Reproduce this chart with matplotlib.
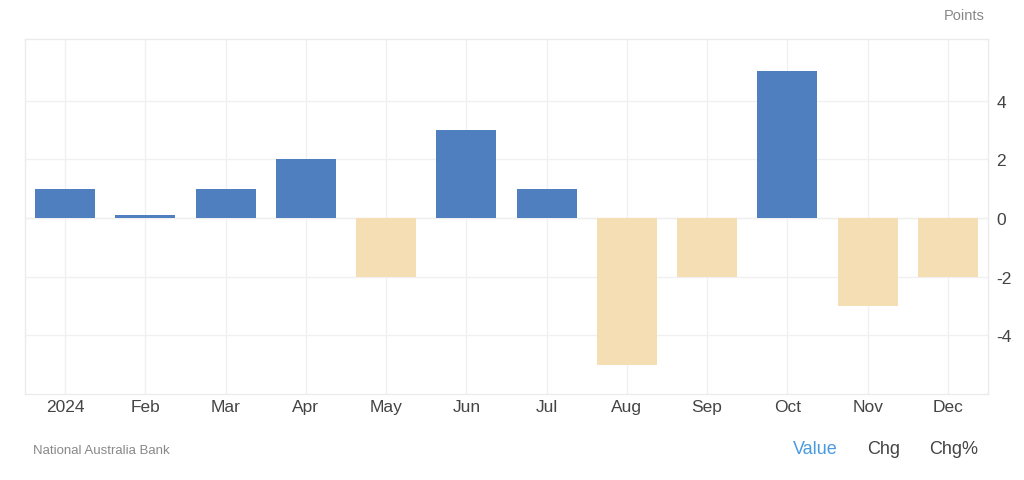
import matplotlib
matplotlib.use("Agg")
import matplotlib.pyplot as plt

plt.rcParams["font.family"] = ["Liberation Sans", "DejaVu Sans"]
plt.rcParams["axes.unicode_minus"] = False

months = ["2024", "Feb", "Mar", "Apr", "May", "Jun", "Jul", "Aug", "Sep", "Oct", "Nov", "Dec"]
values = [1, 0.1, 1, 2, -2, 3, 1, -5, -2, 5, -3, -2]
yticks = [-4, -2, 0, 2, 4]

pos_color = "#4f7fbf"
neg_color = "#f5deb3"

fig = plt.figure(figsize=(10.24, 4.81), dpi=100)
ax = fig.add_axes([25/1024, 86/481, (988-25)/1024, (395-40)/481])

x = list(range(len(months)))
colors = [pos_color if v >= 0 else neg_color for v in values]
ax.bar(x, values, width=0.75, color=colors, zorder=3)

ax.set_xlim(-0.5, 11.5)
ax.set_ylim(-6.0, 6.1)
ax.set_xticks(x)
ax.set_xticklabels(months)
ax.set_yticks(yticks)
ax.yaxis.tick_right()
ax.tick_params(axis="both", length=0, colors="#444444", labelsize=12.5)
ax.tick_params(axis="x", pad=3.5)
ax.tick_params(axis="y", pad=6)
ax.grid(True, color="#f0f0f0", linewidth=1, zorder=0)
ax.axhline(0, color="#f0f0f0", linewidth=1, zorder=1)
for s in ax.spines.values():
    s.set_color("#ebebeb")
    s.set_linewidth(1)

fig.text(985/1024, 1 - 16/481, "Points", ha="right", va="center", fontsize=10.5, color="#888888")
fig.text(33/1024, 1 - 451/481, "National Australia Bank", ha="left", va="center", fontsize=9.5, color="#888888")
fig.text(793/1024, 1 - 450/481, "Value", ha="left", va="center", fontsize=13, color="#4a9ae0")
fig.text(867/1024, 1 - 450/481, "Chg", ha="left", va="center", fontsize=13, color="#444444")
fig.text(929/1024, 1 - 450/481, "Chg%", ha="left", va="center", fontsize=13, color="#444444")

fig.savefig("out.png", dpi=100, facecolor="white")
